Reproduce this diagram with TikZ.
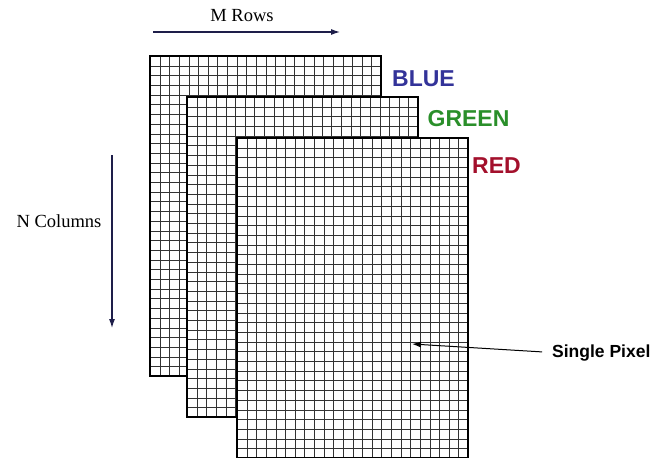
\documentclass[tikz,border=0pt]{standalone}
\usepackage{fontspec}
\setmainfont{Liberation Serif}
\newfontfamily\labelfont{Liberation Sans}
\usepackage{xcolor}
\usepackage{tikz}
\usetikzlibrary{arrows.meta, positioning}

\definecolor{navy}{HTML}{1E1E4A}
\definecolor{bluetxt}{HTML}{333399}
\definecolor{greentxt}{HTML}{2A8F2A}
\definecolor{redtxt}{HTML}{A3102C}
\definecolor{gridgray}{HTML}{333333}

\tikzset{
    axisarrow/.style={->, navy, line width=1.1pt},
    gridline/.style={gridgray, line width=1.3pt},
    frameline/.style={black, line width=1.8pt},
    serifname/.style={inner sep=0pt, font=\fontsize{18.5}{20}\selectfont},
    planename/.style={inner sep=0pt, anchor=base, font=\labelfont\bfseries\fontsize{23}{25}\selectfont}
}

\begin{document}
\begin{tikzpicture}[x=1pt, y=-1pt, >={Latex[length=9pt,width=6pt]}]
    \useasboundingbox (0,0) rectangle (657,458);

    % Ba lớp lưới điểm ảnh
    \foreach \gx/\gy in {150/56, 187/97, 237/138} {
        \begin{scope}[shift={(\gx,\gy)}]
            \fill[white] (0,0) rectangle (231,320);
            \foreach \i in {1,...,23} {
                \pgfmathsetmacro{\xx}{round(\i*9.625)+0.5}
                \draw[gridline] (\xx,0) -- (\xx,320);
            }
            \foreach \j in {1,...,32} {
                \pgfmathsetmacro{\yy}{round(\j*9.697)+0.5}
                \draw[gridline] (0,\yy) -- (231,\yy);
            }
            \draw[frameline] (0,0) rectangle (231,320);
        \end{scope}
    }

    % Nhãn các lớp màu
    \node[planename, text=bluetxt] (blue) at (423.5,86) {BLUE};
    \node[planename, text=greentxt] (green) at (468.5,126) {GREEN};
    \node[planename, text=redtxt] (red) at (496.5,173) {RED};

    % Mũi tên hàng
    \node[serifname, anchor=base] (mrows) at (242,21) {M Rows};
    \coordinate (mtail) at (153,32);
    \coordinate (mtip) at (340,32);
    \draw[axisarrow] (mtail) -- (mtip);

    % Mũi tên cột
    \node[serifname, anchor=base] (ncols) at (59,227) {N Columns};
    \coordinate (ntail) at (112,155);
    \coordinate (ntip) at (112,328);
    \draw[axisarrow] (ntail) -- (ntip);

    % Điểm ảnh đơn
    \node[anchor=base west, inner sep=0pt, font=\labelfont\bfseries\fontsize{17.5}{19}\selectfont] (pixel) at (552,357) {Single Pixel};
    \coordinate (pixtip) at (412,344);
    \draw[->, black, line width=1pt, shorten <=10pt] (pixel.west) -- (pixtip);
\end{tikzpicture}
\end{document}
